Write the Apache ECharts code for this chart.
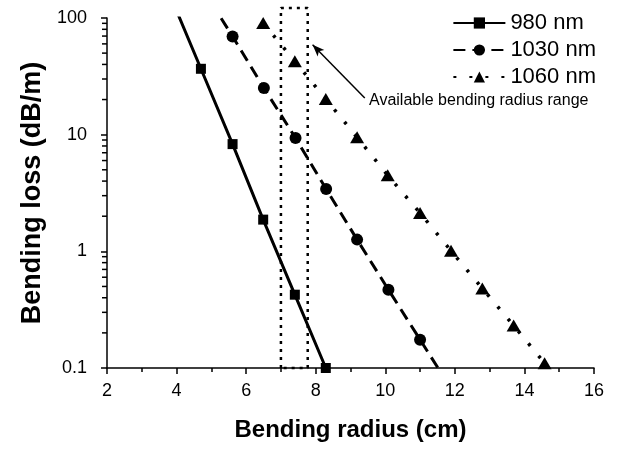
<!DOCTYPE html>
<html>
<head>
<meta charset="utf-8">
<script src="https://cdn.jsdelivr.net/npm/echarts@6/dist/echarts.min.js"></script>
<style>html,body{margin:0;padding:0;background:#fff}#c{width:625px;height:449px}</style>
</head>
<body>
<div id="c"></div>
<script>
// ---- data ----
const seriesNames = ['980 nm', '1030 nm', '1060 nm'];
// [bending radius (cm), bending loss (dB/m)]
const data980 = [[3.8, 160], [4.70, 36.7], [5.61, 8.3], [6.49, 1.87], [7.40, 0.425], [8.29, 0.1]];
const data1030 = [[4.7, 188], [5.61, 69.5], [6.51, 25.1], [7.42, 9.36], [8.30, 3.42], [9.19, 1.26], [10.09, 0.469], [11.0, 0.175], [11.9, 0.066]];
const data1060 = [[6.49, 90.6], [7.40, 42.5], [8.29, 20.2], [9.19, 9.48], [10.07, 4.48], [11.0, 2.13], [11.89, 1.01], [12.79, 0.481], [13.69, 0.231], [14.58, 0.110]];
// points lying outside the plot (only the line runs through them)
const hiddenPoints980 = [0];
const hiddenPoints1030 = [0, 8];
// available bending radius range (cm) and the box top (dB/m)
const rangeX = [7.0, 7.77];
const rangeLoss = [0.1, 122];
// annotation arrow: tail -> head, in data units
const arrowTail = [9.41, 20.6];
const arrowHead = [7.91, 59];
const annotationText = 'Available bending radius range';
// axes
const xTicks = [2, 4, 6, 8, 10, 12, 14, 16];
const yTickLabels = [0.1, 1, 10, 100];
const yDecades = [0.1, 1, 10];
const yMinorMultipliers = [2, 3, 4, 5, 6, 7, 8, 9];

const FONT = '"Liberation Sans", Arial, Helvetica, sans-serif';

function withHidden(arr, hidden) {
  return arr.map((p, i) => hidden.indexOf(i) >= 0 ? { value: p, symbol: 'none' } : p);
}
const minorVals = [];
yDecades.forEach(d => yMinorMultipliers.forEach(m => minorVals.push([xTicks[0], +(d * m).toPrecision(3)])));

const chart = echarts.init(document.getElementById('c'), null, { renderer: 'canvas' });
chart.setOption({
  animation: false,
  backgroundColor: '#fff',
  textStyle: { fontFamily: FONT, color: '#000' },
  grid: { left: 107, right: 31, top: 18, bottom: 81, containLabel: false },
  legend: {
    data: seriesNames,
    orient: 'vertical',
    right: 24,
    top: 7,
    align: 'left',
    itemWidth: 52,
    itemHeight: 14,
    itemGap: 5,
    textStyle: { fontSize: 22, color: '#000', fontFamily: FONT }
  },
  xAxis: {
    type: 'value',
    min: xTicks[0],
    max: xTicks[xTicks.length - 1],
    interval: 2,
    name: 'Bending radius (cm)',
    nameLocation: 'middle',
    nameGap: 50,
    nameTextStyle: { fontSize: 24, fontWeight: 'bold', color: '#000', fontFamily: FONT },
    axisLine: { lineStyle: { color: '#000', width: 1.5 } },
    axisTick: { show: true, length: 6, lineStyle: { color: '#000', width: 1.5 } },
    minorTick: { show: true, splitNumber: 2, length: 4, lineStyle: { color: '#000', width: 1.5 } },
    axisLabel: { fontSize: 18, color: '#000', margin: 14, fontFamily: FONT },
    splitLine: { show: false }
  },
  yAxis: {
    type: 'log',
    logBase: 10,
    min: yTickLabels[0],
    max: yTickLabels[yTickLabels.length - 1],
    name: 'Bending loss (dB/m)',
    nameLocation: 'middle',
    nameGap: 61,
    nameTextStyle: { fontSize: 27, fontWeight: 'bold', color: '#000', fontFamily: FONT },
    axisLine: { show: true, lineStyle: { color: '#000', width: 1.5 } },
    axisTick: { show: true, length: 6, lineStyle: { color: '#000', width: 1.5 } },
    axisLabel: {
      fontSize: 18, color: '#000', margin: 20, fontFamily: FONT,
      formatter: v => String(+(+v).toPrecision(3))
    },
    splitLine: { show: false }
  },
  graphic: [{
    type: 'text',
    left: 369,
    top: 93,
    style: { text: annotationText, fontSize: 16, fill: '#000', fontFamily: FONT }
  }],
  series: [
    {
      name: seriesNames[0], type: 'line', data: withHidden(data980, hiddenPoints980),
      symbol: 'rect', symbolSize: 10, clip: true,
      lineStyle: { color: '#000', width: 3 }, itemStyle: { color: '#000' }
    },
    {
      name: seriesNames[1], type: 'line', data: withHidden(data1030, hiddenPoints1030),
      symbol: 'circle', symbolSize: 12, clip: true,
      lineStyle: { color: '#000', width: 3, type: [12, 7] }, itemStyle: { color: '#000' }
    },
    {
      name: seriesNames[2], type: 'line', data: data1060,
      symbol: 'triangle', symbolSize: [14, 12], clip: true,
      lineStyle: { color: '#000', width: 3.5, type: [3, 13] }, itemStyle: { color: '#000' }
    },
    {
      name: 'range', type: 'line', clip: false, symbol: 'none', silent: true,
      data: [[rangeX[0], rangeLoss[0]], [rangeX[0], rangeLoss[1]], [rangeX[1], rangeLoss[1]], [rangeX[1], rangeLoss[0]], [rangeX[0], rangeLoss[0]]],
      lineStyle: { color: '#000', width: 2.5, type: [3, 5] },
      markLine: {
        silent: true, animation: false,
        symbol: ['none', 'arrow'], symbolSize: [7, 12],
        label: { show: false },
        lineStyle: { color: '#000', width: 1.5, type: 'solid' },
        data: [[{ coord: arrowTail }, { coord: arrowHead }]]
      }
    },
    {
      name: 'minorTicks', type: 'custom', silent: true, clip: false,
      data: minorVals,
      renderItem: function (params, api) {
        const p = api.coord([api.value(0), api.value(1)]);
        return { type: 'line', shape: { x1: p[0] - 5, y1: p[1], x2: p[0], y2: p[1] }, style: { stroke: '#000', lineWidth: 1.5 } };
      }
    }
  ]
});
</script>
</body>
</html>
